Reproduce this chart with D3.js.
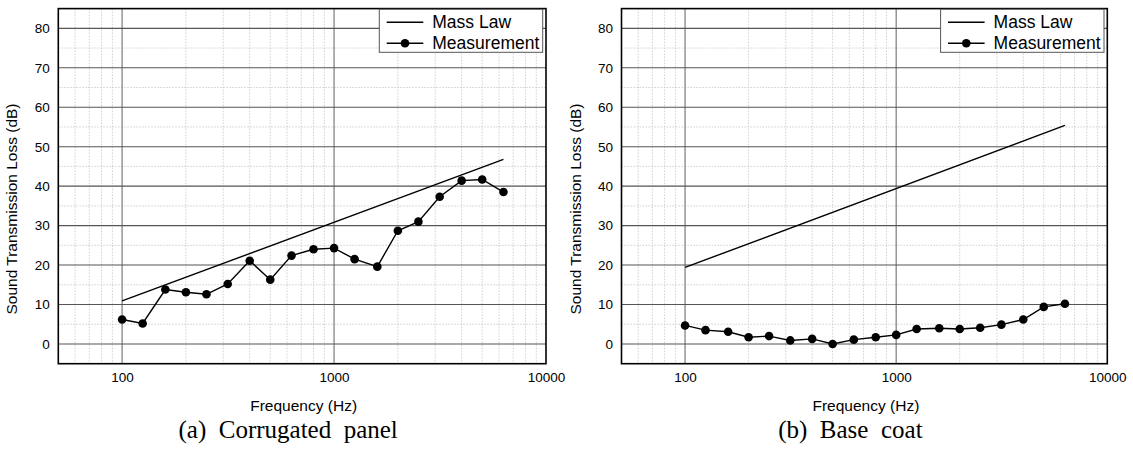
<!DOCTYPE html>
<html>
<head>
<meta charset="utf-8">
<script src="https://cdn.jsdelivr.net/npm/d3@7/dist/d3.min.js"></script>
<style>
  html, body { margin: 0; padding: 0; background: #fff; }
  svg { display: block; }
  text { fill: #000; }
</style>
</head>
<body>
<svg id="chart" width="1133" height="454"></svg>
<script>
// ---- data ----
const freqs = [100,125,160,200,250,315,400,500,630,800,1000,1250,1600,2000,2500,3150,4000,5000,6300];
const measA = [6.2,5.2,13.8,13.1,12.6,15.2,21.1,16.3,22.4,24.0,24.3,21.5,19.6,28.7,31.0,37.3,41.4,41.7,38.5];
const measB = [4.7,3.5,3.1,1.7,2.0,0.9,1.3,0.0,1.1,1.7,2.3,3.8,4.0,3.8,4.1,4.9,6.2,9.4,10.2];
const massFreqs = [100, 6300];
const massA = [10.9, 46.8];
const massB = [19.4, 55.4];
const xTicks = [100, 1000, 10000];
const yTicks = [0,10,20,30,40,50,60,70,80];
const xMinor = [60,70,80,90,200,300,400,500,600,700,800,900,2000,3000,4000,5000,6000,7000,8000,9000];
const yMinor = [5,15,25,35,45,55,65,75];
const legendLabels = ["Mass Law", "Measurement"];
const captions = ["(a)  Corrugated  panel", "(b)  Base  coat"];
const xTitle = "Frequency (Hz)";
const yTitle = "Sound Transmission Loss (dB)";

const SANS = "'Liberation Sans', Arial, sans-serif";
const SERIF = "'Liberation Serif', 'Times New Roman', serif";

const panels = [
  { x0: 58.3, x1: 546.0, meas: measA, mass: massA, caption: captions[0] },
  { x0: 621.5, x1: 1107.3, meas: measB, mass: massB, caption: captions[1] }
];
const plotTop = 8.6, plotBottom = 363.7;

const svg = d3.select("#chart");

panels.forEach(p => {
  const x = d3.scaleLog().domain([50, 10000]).range([p.x0, p.x1]);
  const y = d3.scaleLinear().domain([-5, 85]).range([plotBottom, plotTop]);
  const g = svg.append("g");

  // minor grid
  g.selectAll(".vminor").data(xMinor).join("line")
    .attr("x1", d => x(d)).attr("x2", d => x(d))
    .attr("y1", plotTop).attr("y2", plotBottom)
    .attr("stroke", "#c4c4c4").attr("stroke-width", 0.8).attr("stroke-dasharray", "1.5,1.5");
  g.selectAll(".hminor").data(yMinor).join("line")
    .attr("x1", p.x0).attr("x2", p.x1)
    .attr("y1", d => y(d)).attr("y2", d => y(d))
    .attr("stroke", "#c4c4c4").attr("stroke-width", 0.8).attr("stroke-dasharray", "1.5,1.5");

  // major grid
  g.selectAll(".vmajor").data(xTicks.slice(0, 2)).join("line")
    .attr("x1", d => x(d)).attr("x2", d => x(d))
    .attr("y1", plotTop).attr("y2", plotBottom)
    .attr("stroke", "#7a7a7a").attr("stroke-width", 1.2);
  g.selectAll(".hmajor").data(yTicks).join("line")
    .attr("x1", p.x0).attr("x2", p.x1)
    .attr("y1", d => y(d)).attr("y2", d => y(d))
    .attr("stroke", "#555").attr("stroke-width", 1.1);

  // mass law line
  const line = d3.line().x(d => x(d[0])).y(d => y(d[1]));
  g.append("path")
    .datum(massFreqs.map((f, i) => [f, p.mass[i]]))
    .attr("d", line).attr("fill", "none").attr("stroke", "#000").attr("stroke-width", 1.4);

  // measurement
  const pts = freqs.map((f, i) => [f, p.meas[i]]);
  g.append("path").datum(pts)
    .attr("d", line).attr("fill", "none").attr("stroke", "#000").attr("stroke-width", 1.4);
  g.selectAll(".pt").data(pts).join("circle")
    .attr("cx", d => x(d[0])).attr("cy", d => y(d[1])).attr("r", 4.3).attr("fill", "#000");

  // frame
  g.append("rect").attr("x", p.x0).attr("y", plotTop)
    .attr("width", p.x1 - p.x0).attr("height", plotBottom - plotTop)
    .attr("fill", "none").attr("stroke", "#000").attr("stroke-width", 1.6);

  // axes (labels only)
  const ya = g.append("g").attr("transform", `translate(${p.x0},0)`)
    .call(d3.axisLeft(y).tickValues(yTicks).tickSize(0).tickPadding(8.5));
  ya.select(".domain").remove();
  ya.selectAll("text").attr("font-size", 13.5).style("font-family", SANS);

  const xa = g.append("g").attr("transform", `translate(0,${plotBottom})`)
    .call(d3.axisBottom(x).tickValues(xTicks).tickFormat(d3.format("d")).tickSize(0).tickPadding(9));
  xa.select(".domain").remove();
  xa.selectAll("text").attr("font-size", 13.5).style("font-family", SANS);

  // titles
  const cx = (p.x0 + p.x1) / 2;
  g.append("text").attr("x", cx + 1.5).attr("y", 410.5)
    .attr("text-anchor", "middle").attr("font-size", 15.5).style("font-family", SANS).text(xTitle);
  g.append("text")
    .attr("transform", `translate(${p.x0 - 41},209) rotate(-90)`)
    .attr("text-anchor", "middle").attr("font-size", 15.5).style("font-family", SANS).text(yTitle);
  g.append("text").attr("x", cx - 14).attr("y", 438)
    .attr("text-anchor", "middle")
    .style("font-family", SERIF)
    .attr("font-size", 25).style("white-space", "pre").text(p.caption);

  // legend
  const lx = p.x1 - 166.7, ly = plotTop + 0.7, lw = 163.4, lh = 43;
  const lg = g.append("g");
  lg.append("rect").attr("x", lx).attr("y", ly).attr("width", lw).attr("height", lh)
    .attr("fill", "#fff").attr("stroke", "#555").attr("stroke-width", 1);
  legendLabels.forEach((lab, i) => {
    const yy = ly + 13 + i * 21;
    lg.append("line").attr("x1", lx + 7.4).attr("x2", lx + 44)
      .attr("y1", yy).attr("y2", yy).attr("stroke", "#000").attr("stroke-width", 1.4);
    if (i === 1) lg.append("circle").attr("cx", lx + 25.7).attr("cy", yy).attr("r", 4.3).attr("fill", "#000");
    lg.append("text").attr("x", lx + 53).attr("y", yy + 5.3)
      .attr("font-size", 17.5).style("font-family", SANS).text(lab);
  });
});
</script>
</body>
</html>
